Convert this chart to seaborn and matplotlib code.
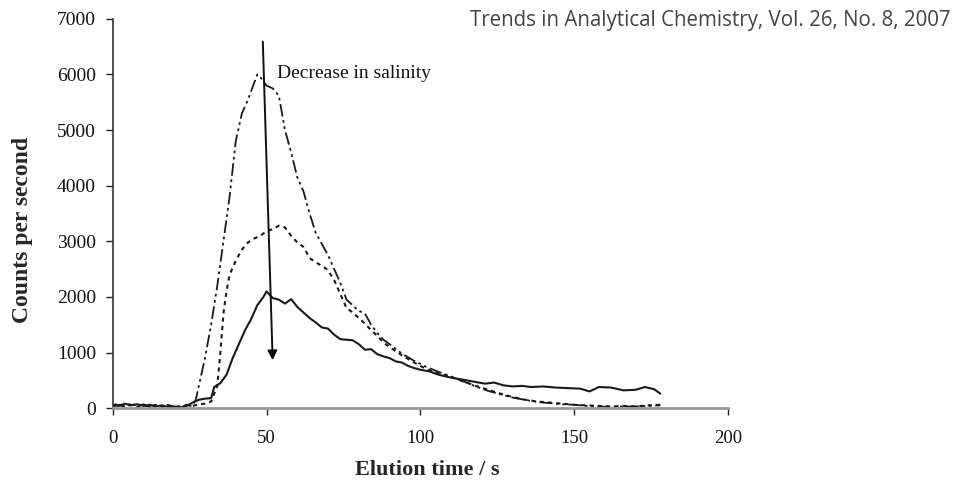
import matplotlib
matplotlib.use("Agg")
import matplotlib.pyplot as plt
import seaborn as sns

# ---- data ----
solid_x = [0,2,4,6,8,10,12,14,16,18,20,22,24,26,28,30,32,33,35,37,39,41,43,45,47,49,50,52,54,56,58,60,62,64,66,68,70,72,74,76,78,80,82,84,86,88,90,92,94,96,98,100,103,106,109,112,115,118,121,124,127,130,133,136,140,144,148,152,155,158,162,166,170,173,176,178]
solid_y = [60,40,80,50,70,40,60,30,50,20,30,10,40,100,150,170,180,380,450,600,900,1150,1400,1600,1850,2000,2100,1980,1950,1880,1960,1820,1720,1620,1540,1450,1430,1320,1240,1230,1220,1150,1050,1060,970,930,900,840,820,760,720,690,660,600,560,530,500,470,440,460,410,390,400,380,390,370,360,350,300,380,370,320,330,380,340,260]

dotted_x = [0,2,4,6,8,10,12,14,16,18,20,22,24,26,28,30,32,34,35,36,37,38,40,42,44,46,48,50,52,54,56,58,60,62,64,66,68,70,72,74,76,78,80,82,84,86,88,90,94,98,102,106,110,114,118,122,126,130,134,138,142,146,150,154,158,162,166,170,174,178]
dotted_y = [50,80,30,60,20,50,30,60,20,40,10,30,60,40,70,80,120,400,1000,1700,2100,2400,2650,2850,2980,3050,3100,3180,3220,3280,3250,3100,2980,2900,2700,2620,2560,2480,2300,2050,1800,1720,1620,1520,1400,1300,1180,1100,950,820,700,620,560,480,400,330,260,200,150,120,100,80,60,50,40,30,40,30,50,60]

dashdot_x = [0,2,4,6,8,10,12,14,16,18,20,22,24,26,27,28,30,32,34,36,38,40,42,44,46,47,48,50,52,54,56,58,60,62,64,66,68,70,72,74,76,78,80,82,84,86,88,90,94,98,102,106,110,114,118,122,126,130,134,138,142,146,150,154,158,162,166,170,174,178]
dashdot_y = [30,60,20,90,40,70,20,50,30,60,20,40,30,50,150,400,900,1500,2200,3000,3800,4800,5300,5550,5850,6000,5950,5800,5750,5620,5000,4600,4150,3900,3500,3150,2950,2750,2500,2250,1950,1850,1750,1700,1500,1350,1230,1150,980,850,740,650,570,480,390,310,250,190,150,110,90,70,60,40,30,20,30,30,40,50]

x_ticks = [0, 50, 100, 150, 200]
y_ticks = [0, 1000, 2000, 3000, 4000, 5000, 6000, 7000]
x_label = "Elution time / s"
y_label = "Counts per second"
annotation = "Decrease in salinity"
source = "Trends in Analytical Chemistry, Vol. 26, No. 8, 2007"
arrow_start = (48.8, 6590)
arrow_end = (52.0, 860)
annotation_pos = (53.3, 6020)

sns.set_theme(style="white")
plt.rcParams["font.family"] = ["Liberation Serif", "DejaVu Serif"]

fig = plt.figure(figsize=(9.63, 4.83), dpi=100)
ax = fig.add_axes([0.117, 0.155, 0.639, 0.806])

ink = "#1a1a1a"
sns.lineplot(x=solid_x, y=solid_y, ax=ax, color=ink, lw=1.5)
sns.lineplot(x=dotted_x, y=dotted_y, ax=ax, color=ink, lw=1.5)
ax.lines[-1].set_linestyle((0, (2, 2)))
sns.lineplot(x=dashdot_x, y=dashdot_y, ax=ax, color=ink, lw=1.3)
ax.lines[-1].set_linestyle((0, (7, 2, 1.5, 2, 1.5, 2)))

ax.set_xlim(0, 200)
ax.set_ylim(0, 7000)
ax.set_xticks(x_ticks)
ax.set_yticks(y_ticks)
ax.tick_params(axis="both", direction="out", length=5, width=1, colors="#222222",
               bottom=True, left=True)
ax.tick_params(axis="x", pad=11, labelsize=13.5)
ax.tick_params(axis="y", pad=7, labelsize=14)
for lab in ax.get_xticklabels() + ax.get_yticklabels():
    lab.set_color("#111111")

for s in ["top", "right"]:
    ax.spines[s].set_visible(False)
ax.spines["left"].set_color("#333333")
ax.spines["left"].set_linewidth(1.2)
ax.spines["bottom"].set_color("#999999")
ax.spines["bottom"].set_linewidth(2.0)

ax.set_xlabel(x_label, fontsize=16, fontweight="bold")
ax.set_ylabel(y_label, fontsize=17, fontweight="bold")
ax.xaxis.set_label_coords(0.512, -0.132)
ax.yaxis.set_label_coords(-0.130, 0.458)

ax.annotate("", xy=arrow_end, xytext=arrow_start,
            arrowprops=dict(arrowstyle="-|>", color="#111111", lw=1.4,
                            mutation_scale=14, shrinkA=0, shrinkB=0))
ax.text(*annotation_pos, annotation, fontsize=14, color="#111111", va="center", ha="left")

fig.text(0.987, 0.958, source, ha="right", va="center", fontsize=14.8,
         color="#444444", family=["Open Sans", "DejaVu Sans"])

fig.savefig("out.png", dpi=100, facecolor="white")
